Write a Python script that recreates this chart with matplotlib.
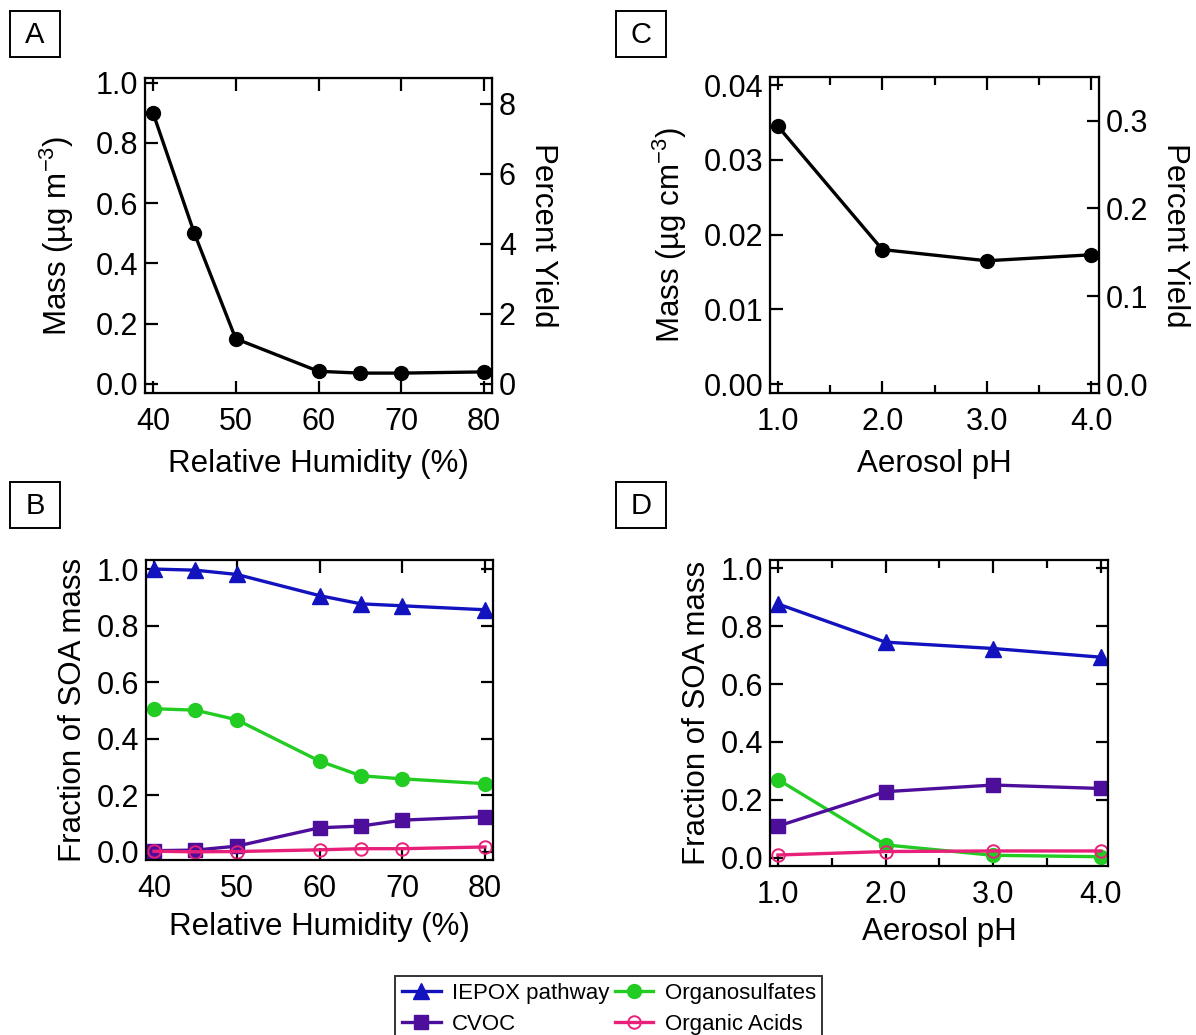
import matplotlib
matplotlib.use("Agg")
import matplotlib.pyplot as plt
from matplotlib.patches import Rectangle
from matplotlib.ticker import MultipleLocator

plt.rcParams['font.family'] = ['Liberation Sans', 'DejaVu Sans']
plt.rcParams['mathtext.fontset'] = 'custom'
plt.rcParams['mathtext.rm'] = 'Liberation Sans'
plt.rcParams['mathtext.it'] = 'Liberation Sans'
plt.rcParams['mathtext.default'] = 'regular'

# relative humidity series
rh = [40, 45, 50, 60, 65, 70, 80]
rh_mass = [0.90, 0.50, 0.15, 0.042, 0.036, 0.036, 0.040]
rh_iepox = [1.0, 0.996, 0.981, 0.906, 0.877, 0.870, 0.856]
rh_os = [0.506, 0.501, 0.467, 0.321, 0.269, 0.258, 0.241]
rh_cvoc = [0.004, 0.006, 0.020, 0.085, 0.091, 0.112, 0.124]
rh_acids = [0.002, 0.0, 0.001, 0.007, 0.011, 0.011, 0.017]

# aerosol pH series
ph = [1.0, 2.0, 3.0, 4.0]
ph_mass = [0.0345, 0.0180, 0.0165, 0.0173]
ph_iepox = [0.877, 0.745, 0.723, 0.693]
ph_os = [0.270, 0.044, 0.008, 0.003]
ph_cvoc = [0.109, 0.228, 0.251, 0.239]
ph_acids = [0.009, 0.021, 0.023, 0.023]

# mass -> percent yield conversion for the right-hand axes
rh_yield_factor = 8.6
ph_yield_factor = 8.51

c_iepox = '#1212BE'
c_os = '#22CC22'
c_cvoc = '#4E0E9C'
c_acids = '#E8207A'

fs_tick = 22
fs_label = 22.5
lw = 2.4

W, H = 1196, 1035
fig = plt.figure(figsize=(W / 100, H / 100), dpi=100)


def place(l, r, t, b):
    # pixel box -> figure fraction
    return [l / W, 1 - b / H, (r - l) / W, (b - t) / H]


axA = fig.add_axes(place(145, 492, 78, 393))
axC = fig.add_axes(place(770, 1099, 77, 393))
axB = fig.add_axes(place(146, 493, 560, 860))
axD = fig.add_axes(place(770, 1108, 560, 866))


def style(ax, right=True):
    for s in ax.spines.values():
        s.set_linewidth(1.6)
    ax.tick_params(axis='x', which='major', pad=10)
    ax.tick_params(axis='y', which='major', pad=5)
    ax.tick_params(which='major', direction='in', length=9, width=1.6,
                   labelsize=fs_tick, top=True, right=right)
    ax.tick_params(which='minor', direction='in', length=6, width=1.6,
                   top=True, right=right)


# A: mass vs RH
axA.plot(rh, rh_mass, color='black', lw=lw, marker='o', ms=10)
axA.set_xlim(39.04, 80.96)
axA.set_ylim(-0.03, 1.015)
axA.set_xticks([40, 50, 60, 70, 80])
axA.set_yticks([0.0, 0.2, 0.4, 0.6, 0.8, 1.0])
axA.yaxis.set_major_formatter(lambda v, p: f"{v:.1f}")
axA.set_xlabel("Relative Humidity (%)", fontsize=fs_label, labelpad=9)
axA.set_ylabel("Mass (µg m$^{-3}$)", fontsize=fs_label, labelpad=14)
style(axA, right=False)
axA2 = axA.twinx()
axA2.set_ylim(-0.03 * rh_yield_factor, 1.015 * rh_yield_factor)
axA2.set_yticks([0, 2, 4, 6, 8])
axA2.tick_params(direction='in', length=9, width=1.6, labelsize=fs_tick, pad=5)
axA2.set_ylabel("Percent Yield", fontsize=fs_label, rotation=270, labelpad=30)

# C: mass vs pH
axC.plot(ph, ph_mass, color='black', lw=lw, marker='o', ms=10)
axC.set_xlim(0.924, 4.076)
axC.set_ylim(-0.0012, 0.0411)
axC.set_xticks(ph)
axC.xaxis.set_minor_locator(MultipleLocator(0.5))
axC.set_yticks([0.0, 0.01, 0.02, 0.03, 0.04])
axC.yaxis.set_major_formatter(lambda v, p: f"{v:.2f}")
axC.xaxis.set_major_formatter(lambda v, p: f"{v:.1f}")
axC.set_xlabel("Aerosol pH", fontsize=fs_label, labelpad=9)
axC.set_ylabel("Mass (µg cm$^{-3}$)", fontsize=fs_label, labelpad=10)
style(axC, right=False)
axC2 = axC.twinx()
axC2.set_ylim(-0.0012 * ph_yield_factor, 0.0411 * ph_yield_factor)
axC2.set_yticks([0.0, 0.1, 0.2, 0.3])
axC2.yaxis.set_major_formatter(lambda v, p: f"{v:.1f}")
axC2.tick_params(direction='in', length=9, width=1.6, labelsize=fs_tick, pad=5)
axC2.set_ylabel("Percent Yield", fontsize=fs_label, rotation=270, labelpad=30)


# B and D: fractional composition
def composition(ax, x, iepox, os_, cvoc, acids):
    h1, = ax.plot(x, iepox, color=c_iepox, lw=lw, marker='^', ms=11,
                  label="IEPOX pathway")
    h3, = ax.plot(x, os_, color=c_os, lw=lw, marker='o', ms=10,
                  label="Organosulfates")
    h2, = ax.plot(x, cvoc, color=c_cvoc, lw=lw, marker='s', ms=9.5,
                  label="CVOC")
    h4, = ax.plot(x, acids, color=c_acids, lw=lw, marker='o', ms=9,
                  mfc='none', mew=1.4, label="Organic Acids")
    ax.set_yticks([0.0, 0.2, 0.4, 0.6, 0.8, 1.0])
    ax.yaxis.set_major_formatter(lambda v, p: f"{v:.1f}")
    ax.set_ylabel("Fraction of SOA mass", fontsize=fs_label, labelpad=6)
    style(ax)
    return [h1, h2, h3, h4]


handles = composition(axB, rh, rh_iepox, rh_os, rh_cvoc, rh_acids)
axB.set_xlim(39.04, 80.96)
axB.set_ylim(-0.029, 1.032)
axB.set_xticks([40, 50, 60, 70, 80])
axB.set_xlabel("Relative Humidity (%)", fontsize=fs_label, labelpad=6)

composition(axD, ph, ph_iepox, ph_os, ph_cvoc, ph_acids)
axD.set_xlim(0.926, 4.067)
axD.set_ylim(-0.029, 1.029)
axD.set_xticks(ph)
axD.xaxis.set_minor_locator(MultipleLocator(0.5))
axD.xaxis.set_major_formatter(lambda v, p: f"{v:.1f}")
axD.set_xlabel("Aerosol pH", fontsize=fs_label, labelpad=5)

# boxed panel letters
for letter, (px, py) in {'A': (10, 11), 'C': (616, 11),
                         'B': (10, 482), 'D': (616, 482)}.items():
    fig.patches.append(Rectangle((px / W, 1 - (py + 46) / H), 50 / W, 46 / H,
                                 transform=fig.transFigure, fill=False,
                                 edgecolor='black', lw=1.4))
    fig.text((px + 25) / W, 1 - (py + 24) / H, letter, fontsize=21,
             ha='center', va='center')

leg = fig.legend(handles, [h.get_label() for h in handles], ncol=2,
                 loc='upper left', bbox_to_anchor=(395 / W, 1 - 976 / H),
                 fontsize=16, frameon=True, fancybox=False, edgecolor='black',
                 handlelength=1.75, handletextpad=0.5, columnspacing=0.25,
                 labelspacing=0.45, borderpad=0.3, borderaxespad=0)
leg.get_frame().set_linewidth(1.4)

fig.savefig("out.png", dpi=100)
